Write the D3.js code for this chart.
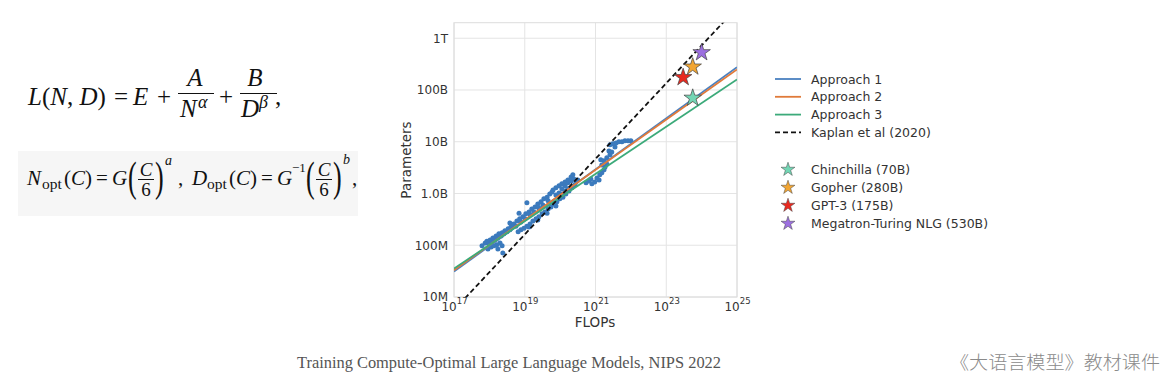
<!DOCTYPE html>
<html>
<head>
<meta charset="utf-8">
<script src="https://cdn.jsdelivr.net/npm/d3@7"></script>
<style>
  body { margin: 0; background: #fff; }
  svg { display: block; }
  .tick text { font-family: "DejaVu Sans", sans-serif; }
</style>
</head>
<body>
<svg id="chart" width="1162" height="391"></svg>
<script>
// ---- data ----
var xTicks = [1e17, 1e19, 1e21, 1e23, 1e25];
var xTickExp = ["17", "19", "21", "23", "25"];
var yTicks = [1e7, 1e8, 1e9, 1e10, 1e11, 1e12];
var yTickLabels = ["10M", "100M", "1.0B", "10B", "100B", "1T"];

var fitFlops = [1e17, 1e25];
var approach1Params = [3.1e7, 2.75e11];
var approach2Params = [3.3e7, 2.5e11];
var approach3Params = [3.55e7, 1.6e11];
var kaplanParams = [5.6e6, 3.9e12];

var scatterFlops = [
  6.2e17, 7.6e17, 8.5e17, 9.8e17, 1.05e18, 1.17e18, 1.26e18, 1.45e18, 1.55e18, 1.74e18,
  1.86e18, 2.14e18, 2.29e18, 2.57e18, 2.75e18, 3.16e18, 3.39e18, 3.8e18, 4.07e18, 4.37e18,
  9.1e17, 1.12e18, 1.35e18, 1.62e18, 2.0e18, 2.29e18, 1.74e18, 2.4e18, 3.8e18, 6.9e18, 1.15e19,
  4.9e18, 6.0e18, 7.2e18, 8.9e18, 1.07e19, 1.32e19, 1.58e19, 1.95e19, 2.34e19, 2.88e19,
  3.47e19, 4.27e19, 5.1e19, 5.9e19, 5.6e18, 7.8e18, 1.02e19, 1.41e19, 1.82e19, 2.51e19,
  3.24e19, 4.57e19,
  6.5e18, 7.8e18, 9.5e18, 1.15e19, 1.41e19, 1.7e19, 2.09e19, 2.51e19, 3.09e19, 3.72e19,
  4.57e19, 5.5e19, 6.6e19, 8.1e19, 9.8e19, 1.2e20, 1.45e20, 1.78e20, 2.14e20, 2.63e20,
  1.32e19, 2.34e19, 4.27e19, 7.6e19,
  6.3e19, 7.6e19, 9.3e19, 1.12e20, 1.12e20, 1.38e20, 1.38e20, 1.66e20, 1.66e20, 2.04e20,
  2.04e20, 2.29e20, 2.45e20, 2.82e20, 3.16e20, 7.6e19, 9.3e19, 1.12e20, 1.38e20, 1.66e20,
  5.4e20, 6.5e20, 7.4e20, 7.9e20, 9.5e20, 1.1e21, 1.26e21, 1.32e21, 1.51e21, 1.74e21,
  1.86e21, 2.09e21, 1.51e21, 1.74e21, 2.09e21, 2.57e21, 2.88e21,
  1.41e21, 2.4e21, 3.55e21, 2.57e21, 3.09e21, 3.8e21, 4.57e21, 5.6e21, 6.8e21, 8.3e21, 1.0e22
];
var scatterParams = [
  9.8e7, 1.1e8, 1.2e8, 1.07e8, 1.26e8, 1.15e8, 1.38e8, 1.26e8, 1.51e8, 1.38e8,
  1.66e8, 1.51e8, 1.74e8, 1.66e8, 1.91e8, 1.82e8, 2.09e8, 2.0e8, 2.24e8, 2.45e8,
  8.5e7, 9.3e7, 9.8e7, 1.02e8, 1.1e8, 9.8e7, 8.5e7, 7.1e7, 2.69e8, 4.17e8, 6.6e8,
  2.57e8, 2.95e8, 3.24e8, 3.55e8, 4.07e8, 4.37e8, 5.0e8, 5.5e8, 6.3e8, 6.9e8,
  7.9e8, 8.5e8, 9.8e8, 1.07e9, 2.34e8, 2.82e8, 3.24e8, 3.89e8, 4.37e8, 5.25e8,
  6.0e8, 7.2e8,
  1.82e8, 2.0e8, 2.14e8, 2.34e8, 2.57e8, 2.95e8, 3.24e8, 3.55e8, 4.07e8, 4.37e8,
  5.0e8, 5.5e8, 6.3e8, 6.9e8, 7.9e8, 8.5e8, 9.8e8, 1.12e9, 1.29e9, 1.48e9,
  2.24e8, 3.09e8, 4.17e8, 5.75e8,
  1.17e9, 1.29e9, 1.41e9, 1.23e9, 1.55e9, 1.41e9, 1.66e9, 1.62e9, 1.82e9, 1.74e9,
  2.09e9, 2.29e9, 1.91e9, 1.66e9, 1.82e9, 9.3e8, 1.02e9, 9.8e8, 1.12e9, 1.23e9,
  1.62e9, 1.74e9, 1.91e9, 1.55e9, 1.66e9, 2.0e9, 1.82e9, 2.29e9, 2.51e9, 2.88e9,
  3.24e9, 3.72e9, 3.55e9, 4.27e9, 4.9e9, 5.6e9, 6.3e9,
  4.47e9, 6.6e9, 7.9e9, 8.7e9, 9.1e9, 9.5e9, 1.0e10, 1.0e10, 1.05e10, 1.05e10, 1.05e10
];

var modelNames = ["Chinchilla (70B)", "Gopher (280B)", "GPT-3 (175B)", "Megatron-Turing NLG (530B)"];
var modelFlops = [5.6e23, 5.6e23, 3.0e23, 1.0e24];
var modelParams = [70e9, 280e9, 175e9, 530e9];
var modelColors = ["#72d6b4", "#f2a532", "#e8291f", "#9c6fe0"];

var lineNames = ["Approach 1", "Approach 2", "Approach 3", "Kaplan et al (2020)"];
var lineColors = ["#4a80c0", "#e07a3a", "#3caa7a", "#111"];

// ---- layout ----
var svg = d3.select("#chart");
var font = "'DejaVu Sans', sans-serif";
var textCol = "#333";

var x = d3.scaleLog().domain([1e17, 1e25]).range([454, 737]);
var y = d3.scaleLog().domain([1e7, Math.pow(10, 12.3)]).range([297, 22.7]);

svg.append("clipPath").attr("id", "plotclip")
  .append("rect")
  .attr("x", x.range()[0]).attr("y", y.range()[1])
  .attr("width", x.range()[1] - x.range()[0])
  .attr("height", y.range()[0] - y.range()[1]);

// grid
var grid = svg.append("g");
grid.selectAll(".gx").data(xTicks).enter().append("line")
  .attr("x1", function (d) { return x(d); }).attr("x2", function (d) { return x(d); })
  .attr("y1", y.range()[0]).attr("y2", y.range()[1])
  .attr("stroke", "#e4e4e4").attr("stroke-width", 1);
grid.selectAll(".gy").data(yTicks).enter().append("line")
  .attr("x1", x.range()[0]).attr("x2", x.range()[1])
  .attr("y1", function (d) { return y(d); }).attr("y2", function (d) { return y(d); })
  .attr("stroke", "#e4e4e4").attr("stroke-width", 1);
grid.append("rect")
  .attr("x", x.range()[0]).attr("y", y.range()[1])
  .attr("width", x.range()[1] - x.range()[0])
  .attr("height", y.range()[0] - y.range()[1])
  .attr("fill", "none").attr("stroke", "#dcdcdc").attr("stroke-width", 1);

// axes
var xAxis = svg.append("g")
  .attr("transform", "translate(0," + (y.range()[0] + 2) + ")")
  .call(d3.axisBottom(x).tickValues(xTicks).tickSize(0).tickFormat(function () { return "10"; }));
xAxis.select(".domain").remove();
xAxis.selectAll("text")
  .attr("fill", textCol).attr("font-size", 12).attr("dy", "0.71em")
  .append("tspan").attr("font-size", 8.5).attr("dy", "-0.75em")
  .text(function (d, i) { return xTickExp[i]; });

var yAxis = svg.append("g")
  .attr("transform", "translate(" + (x.range()[0] - 4) + ",0)")
  .call(d3.axisLeft(y).tickValues(yTicks).tickSize(0)
    .tickFormat(function (d, i) { return yTickLabels[i]; }));
yAxis.select(".domain").remove();
yAxis.selectAll("text").attr("fill", textCol).attr("font-size", 12).attr("x", -2);

svg.append("text")
  .attr("x", 595).attr("y", 327)
  .attr("text-anchor", "middle")
  .attr("font-family", font).attr("font-size", 13.5).attr("fill", textCol)
  .text("FLOPs");
svg.append("text")
  .attr("transform", "translate(411,160) rotate(-90)")
  .attr("text-anchor", "middle")
  .attr("font-family", font).attr("font-size", 13.5).attr("fill", textCol)
  .text("Parameters");

// plot contents
var plot = svg.append("g").attr("clip-path", "url(#plotclip)");

plot.selectAll(".dot").data(scatterFlops).enter().append("circle")
  .attr("cx", function (d) { return x(d); })
  .attr("cy", function (d, i) { return y(scatterParams[i]); })
  .attr("r", 2.5)
  .attr("fill", "#3b7abd");

var line = d3.line()
  .x(function (d) { return x(d[0]); })
  .y(function (d) { return y(d[1]); });

[approach1Params, approach2Params, approach3Params].forEach(function (p, i) {
  plot.append("path")
    .attr("d", line(d3.zip(fitFlops, p)))
    .attr("fill", "none")
    .attr("stroke", lineColors[i])
    .attr("stroke-width", 1.8);
});
plot.append("path")
  .attr("d", line(d3.zip(fitFlops, kaplanParams)))
  .attr("fill", "none")
  .attr("stroke", lineColors[3])
  .attr("stroke-width", 1.8)
  .attr("stroke-dasharray", "5,3");

var star = d3.symbol().type(d3.symbolStar);
svg.selectAll(".star").data(modelFlops).enter().append("path")
  .attr("d", star.size(95)())
  .attr("transform", function (d, i) {
    return "translate(" + x(d) + "," + y(modelParams[i]) + ")";
  })
  .attr("fill", function (d, i) { return modelColors[i]; })
  .attr("stroke", "#444").attr("stroke-width", 0.7);

// legend
var legend = svg.append("g").attr("font-family", font).attr("font-size", 12.5).attr("fill", textCol);
lineNames.forEach(function (name, i) {
  var ly = 79 + i * 17.8;
  legend.append("line")
    .attr("x1", 775).attr("x2", 801).attr("y1", ly).attr("y2", ly)
    .attr("stroke", lineColors[i]).attr("stroke-width", 1.8)
    .attr("stroke-dasharray", i === 3 ? "5,3" : null);
  legend.append("text").attr("x", 811).attr("y", ly + 4.5).text(name);
});
modelNames.forEach(function (name, i) {
  var ly = 169.5 + i * 18;
  legend.append("path")
    .attr("d", star.size(60)())
    .attr("transform", "translate(788," + ly + ")")
    .attr("fill", modelColors[i]).attr("stroke", "#444").attr("stroke-width", 0.5);
  legend.append("text").attr("x", 811).attr("y", ly + 4.5).text(name);
});

// ---- formulas on the left ----
var serif = "'Liberation Serif', 'Times New Roman', serif";
var f1 = svg.append("g").attr("font-family", serif).attr("fill", "#111").attr("font-size", 25);
function put(g, str, px, py, opts) {
  opts = opts || {};
  var t = g.append("text").attr("x", px).attr("y", py).text(str);
  if (opts.italic) t.attr("font-style", "italic");
  if (opts.size) t.attr("font-size", opts.size);
  if (opts.anchor) t.attr("text-anchor", opts.anchor);
  return t;
}
var t1 = f1.append("text").attr("x", 28).attr("y", 105);
t1.append("tspan").attr("font-style", "italic").text("L");
t1.append("tspan").text("(");
t1.append("tspan").attr("font-style", "italic").text("N");
t1.append("tspan").text(", ");
t1.append("tspan").attr("font-style", "italic").text("D");
t1.append("tspan").text(")");
put(f1, "=", 114, 105);
put(f1, "E", 133, 105, { italic: true });
put(f1, "+", 157, 105);
put(f1, "A", 195, 86, { italic: true, anchor: "middle" });
f1.append("line").attr("x1", 178).attr("x2", 214).attr("y1", 93.5).attr("y2", 93.5).attr("stroke", "#111").attr("stroke-width", 1.1);
put(f1, "N", 180, 117, { italic: true });
put(f1, "α", 198, 108, { italic: true, size: 18 });
put(f1, "+", 219, 105);
put(f1, "B", 255, 86, { italic: true, anchor: "middle" });
f1.append("line").attr("x1", 240).attr("x2", 277).attr("y1", 93.5).attr("y2", 93.5).attr("stroke", "#111").attr("stroke-width", 1.1);
put(f1, "D", 241, 117, { italic: true });
put(f1, "β", 259, 108, { italic: true, size: 18 });
put(f1, ",", 275, 105);

svg.append("rect").attr("x", 18).attr("y", 151).attr("width", 340).attr("height", 65).attr("fill", "#f6f6f6");
var f2 = svg.append("g").attr("font-family", serif).attr("fill", "#111").attr("font-size", 21);
function bigParen(g, ch, px) {
  g.append("text").attr("transform", "translate(" + px + ",191) scale(0.62,1)")
    .attr("font-size", 42).text(ch);
}
function frac(g, cx) {
  put(g, "C", cx, 176, { italic: true, anchor: "middle", size: 19 });
  g.append("line").attr("x1", cx - 8).attr("x2", cx + 8).attr("y1", 179.5).attr("y2", 179.5).attr("stroke", "#111").attr("stroke-width", 1);
  put(g, "6", cx, 196, { anchor: "middle", size: 19 });
}
put(f2, "N", 27, 185, { italic: true });
put(f2, "opt", 42, 189, { size: 15.5 });
put(f2, "(", 64, 185);
put(f2, "C", 71, 185, { italic: true });
put(f2, ")", 85, 185);
put(f2, "=", 96, 185);
put(f2, "G", 112, 185, { italic: true });
bigParen(f2, "(", 128);
frac(f2, 146);
bigParen(f2, ")", 155);
put(f2, "a", 165, 165, { italic: true, size: 14 });
put(f2, ",", 178, 185);
put(f2, "D", 192, 185, { italic: true });
put(f2, "opt", 207, 189, { size: 15.5 });
put(f2, "(", 229, 185);
put(f2, "C", 236, 185, { italic: true });
put(f2, ")", 250, 185);
put(f2, "=", 261, 185);
put(f2, "G", 277, 185, { italic: true });
put(f2, "−1", 292, 172, { size: 13 });
bigParen(f2, "(", 306);
frac(f2, 324);
bigParen(f2, ")", 333);
put(f2, "b", 343, 164, { italic: true, size: 14 });
put(f2, ",", 352, 185);

// ---- captions ----
svg.append("text")
  .attr("x", 297).attr("y", 368)
  .attr("font-family", serif).attr("font-size", 16.5).attr("fill", "#555")
  .attr("textLength", 424).attr("lengthAdjust", "spacingAndGlyphs")
  .text("Training Compute-Optimal Large Language Models, NIPS 2022");
svg.append("text")
  .attr("x", 950).attr("y", 369)
  .attr("font-family", "'Noto Sans CJK SC', sans-serif").attr("font-size", 18).attr("font-weight", 300)
  .attr("fill", "#8a8a8a")
  .attr("textLength", 210).attr("lengthAdjust", "spacingAndGlyphs")
  .text("《大语言模型》教材课件");
</script>
</body>
</html>
